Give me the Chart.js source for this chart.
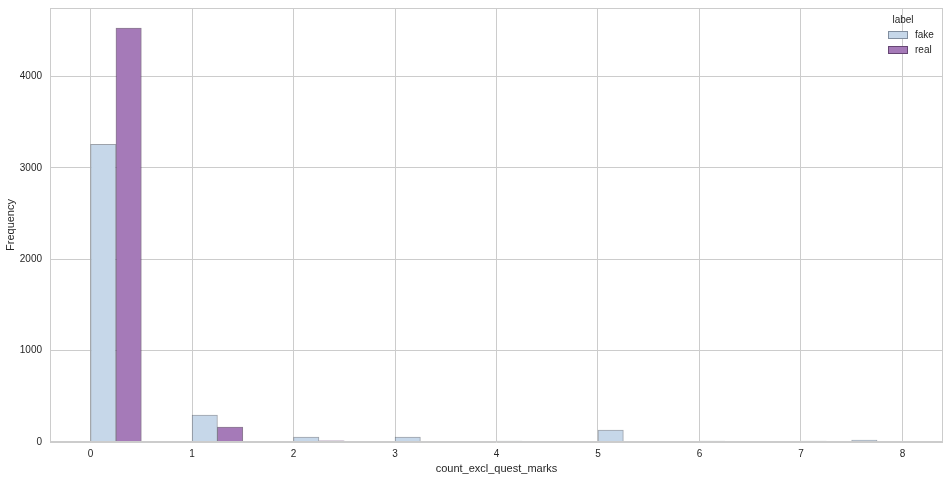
<!DOCTYPE html>
<html>
<head>
<meta charset="utf-8">
<script src="https://cdn.jsdelivr.net/npm/chart.js@4/dist/chart.umd.min.js"></script>
<style>
  html, body { margin: 0; padding: 0; background: #fff; }
  #wrap { width: 950px; height: 480px; }
</style>
</head>
<body>
<div id="wrap"><canvas id="hist"></canvas></div>
<script>
// histogram bins (left edges, width 0.5), each bin split into fake | real halves
const binStarts = [0, 0.5, 1, 1.5, 2, 2.5, 3, 3.5, 4, 4.5, 5, 5.5, 6, 6.5, 7, 7.5];
const fakeCounts = [3257, 0, 295, 0, 55, 0, 55, 0, 10, 0, 131, 0, 10, 0, 10, 22];
const realCounts = [4530, 0, 164, 0, 12, 0, 0, 0, 0, 0, 0, 0, 0, 0, 0, 0];
const seriesNames = ['fake', 'real'];
const xTicks = [0, 1, 2, 3, 4, 5, 6, 7, 8];
const yTicks = [0, 1000, 2000, 3000, 4000];

const fakeFill = '#c6d7e9', fakeEdge = 'rgba(60,70,85,0.5)';
const realFill = '#a57ab8', realEdge = 'rgba(60,35,70,0.6)';
const FONT = "'Liberation Sans', Arial, sans-serif";

const fakePts = binStarts.map((b, i) => ({x: b + 0.125, y: fakeCounts[i]}));
const realPts = binStarts.map((b, i) => ({x: b + 0.375, y: realCounts[i]}));

// legend inside the plot + full frame
const frameLegend = {
    id: 'frameLegend',
    afterDraw(chart) {
        const ctx = chart.ctx, a = chart.chartArea;
        ctx.save();
        ctx.strokeStyle = '#cccccc';
        ctx.lineWidth = 1;
        ctx.strokeRect(a.left + 0.5, a.top + 0.5, a.right - a.left - 1, a.bottom - a.top - 1);
        ctx.font = '10px ' + FONT;
        ctx.fillStyle = '#262626';
        ctx.textBaseline = 'middle';
        ctx.textAlign = 'center';
        ctx.fillText('label', 903, 20);
        const fills = [fakeFill, realFill], edges = [fakeEdge, realEdge];
        seriesNames.forEach((n, i) => {
            const y = 35 + i * 15;
            ctx.fillStyle = fills[i];
            ctx.fillRect(888, y - 4, 20, 8);
            ctx.strokeStyle = edges[i];
            ctx.strokeRect(888.5, y - 3.5, 19, 7);
            ctx.fillStyle = '#262626';
            ctx.textAlign = 'left';
            ctx.fillText(n, 915, y);
        });
        ctx.restore();
    }
};

new Chart(document.getElementById('hist'), {
    type: 'bar',
    data: {
        datasets: [
            {label: seriesNames[0], data: fakePts, backgroundColor: fakeFill, borderColor: fakeEdge,
             borderWidth: 1, grouped: false, barPercentage: 1, categoryPercentage: 1},
            {label: seriesNames[1], data: realPts, backgroundColor: realFill, borderColor: realEdge,
             borderWidth: 1, grouped: false, barPercentage: 1, categoryPercentage: 1}
        ]
    },
    options: {
        responsive: true,
        maintainAspectRatio: false,
        animation: false,
        layout: {padding: {left: 0, right: 7, top: 8, bottom: 0}},
        plugins: {legend: {display: false}, tooltip: {enabled: false}},
        scales: {
            x: {
                type: 'linear', min: -0.4, max: 8.4, offset: false,
                grid: {color: '#cccccc', drawTicks: false, offset: false},
                border: {display: false},
                afterBuildTicks: s => { s.ticks = xTicks.map(v => ({value: v})); },
                ticks: {font: {family: FONT, size: 10}, color: '#262626', padding: 6, callback: v => String(v)},
                title: {display: true, text: 'count_excl_quest_marks', font: {family: FONT, size: 11}, color: '#262626', padding: {top: 2}},
                afterFit: s => { s.height = 38; s.paddingLeft = 0; s.paddingRight = 0; }
            },
            y: {
                min: 0, max: 4750,
                grid: {color: '#cccccc', drawTicks: false},
                border: {display: false},
                afterBuildTicks: s => { s.ticks = yTicks.map(v => ({value: v})); },
                ticks: {font: {family: FONT, size: 10}, color: '#262626', padding: 8, callback: v => String(v)},
                title: {display: true, text: 'Frequency', font: {family: FONT, size: 11}, color: '#262626'},
                afterFit: s => { s.width = 50; s.paddingTop = 0; s.paddingBottom = 0; }
            }
        }
    },
    plugins: [frameLegend]
});
</script>
</body>
</html>
